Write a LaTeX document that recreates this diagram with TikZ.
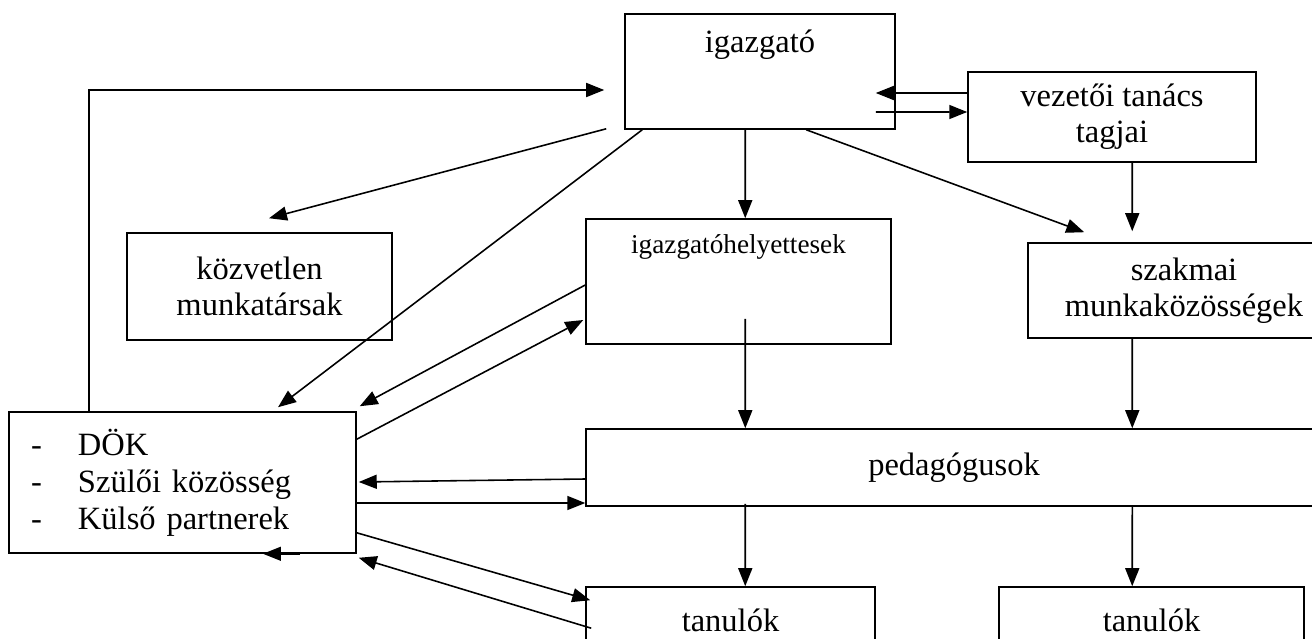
\documentclass[tikz,border=0pt]{standalone}
\usepackage{fontspec}
\setmainfont{Liberation Serif}
\usetikzlibrary{arrows.meta,calc}

\tikzset{
    box/.style={draw, line width=0.9pt, inner sep=0pt, align=center, font=\fontsize{18.5}{20.5}\selectfont},
    lbl/.style={inner sep=0pt, font=\fontsize{18.5}{20.5}\selectfont},
    arr/.style={-{Triangle[length=0.36cm,width=0.28cm]}, line width=0.9pt}
}

\begin{document}
\begin{tikzpicture}[x=0.02cm, y=-0.02cm]
            %\draw[lightgray] (0, 0) grid[step=50] (1312, 639);
            \clip (0, 0) rectangle (1312, 639);
            \node[box, minimum width=5.4cm, minimum height=2.3cm] (igazgato) at (760, 71.5) {};
            \node[lbl] (igazgato-txt) at ($(igazgato.north)+(0, 31)$) {igazgató};
            \node[box, minimum width=5.76cm, minimum height=1.8cm] (vezetoi) at (1112, 117) {vezetői tanács\\tagjai};
            \node[box, minimum width=5.3cm, minimum height=2.14cm] (kozvetlen) at (259.5, 286.5) {közvetlen\\munkatársak};
            \node[box, minimum width=6.1cm, minimum height=2.5cm] (helyettesek) at (738.5, 281.5) {};
            \node[lbl, font=\fontsize{15.5}{18}\selectfont] (helyettesek-txt) at ($(helyettesek.north)+(0, 29)$) {igazgatóhelyettesek};
            \node[box, minimum width=6.24cm, minimum height=1.9cm] (szakmai) at (1184, 290.5) {szakmai\\munkaközösségek};
            \node[box, align=left, text width=6.06cm, inner xsep=0.44cm, minimum height=2.82cm,
                font=\fontsize{18.5}{21}\selectfont] (dok) at (182.5, 482.5)
                {\makebox[0.94cm][l]{-}DÖK\\\makebox[0.94cm][l]{-}Szülői közösség\\\makebox[0.94cm][l]{-}Külső partnerek};
            \node[box, minimum width=14.72cm, minimum height=1.54cm] (pedagogusok) at (954, 467.5) {pedagógusok};
            \node[box, minimum width=5.78cm, minimum height=1.32cm] (tanulok-1) at (730.5, 620) {tanulók};
            \node[box, minimum width=6.1cm, minimum height=1.32cm] (tanulok-2) at (1151.5, 620) {tanulók};

            % igazgato and vezetoi tanacs
            \draw[arr] ($(vezetoi.west)+(0, -24)$) -- ($(igazgato.east)+(-20, 21.5)$);
            \draw[arr] ($(igazgato.east)+(-20, 40.5)$) -- ($(vezetoi.west)+(0, -5)$);
            \draw[arr] ($(dok.north west)+(81, 0)$) |- ($(igazgato.west)+(-20, 18.5)$);
            \draw[arr] ($(igazgato.south west)+(-18, -1)$) -- ($(kozvetlen.north)+(9.5, -14)$);
            \draw[arr] ($(igazgato.south west)+(18, 0)$) -- ($(dok.north)+(95.5, -4)$);
            \draw[arr] ($(igazgato.south west)+(121, 0)$) -- ($(helyettesek.north west)+(160, 0)$);
            \draw[arr] ($(igazgato.south west)+(182, 0)$) -- ($(szakmai.north west)+(57, -10)$);
            \draw[arr] ($(vezetoi.south west)+(165, 0)$) -- ($(szakmai.north west)+(105, -11)$);

            % down to pedagogusok and tanulok
            \draw[arr] ($(helyettesek.south west)+(160, -26)$) -- ($(pedagogusok.north west)+(160, 0)$);
            \draw[arr] ($(szakmai.south west)+(105, 0)$) -- ($(pedagogusok.north west)+(547, 0)$);
            \draw[arr] ($(pedagogusok.south west)+(160, -3)$) -- ($(tanulok-1.north west)+(160, 0)$);
            \draw[arr] ($(pedagogusok.south west)+(547, 0)$) -- ($(tanulok-2.north west)+(134, 0)$);

            % DOK, szuloi kozosseg, kulso partnerek
            \draw[arr] ($(helyettesek.west)+(0, 3.5)$) -- ($(dok.north east)+(3, -5)$);
            \draw[arr] ($(dok.north east)+(0, 28)$) -- ($(helyettesek.west)+(-2, 38.5)$);
            \draw[arr] ($(pedagogusok.west)+(0, 11.5)$) -- ($(dok.east)+(2, -0.5)$);
            \draw[arr] ($(dok.east)+(0, 20.5)$) -- ($(pedagogusok.west)+(0, 35.5)$);
            \draw[arr] ($(dok.south)+(117.5, 0)$) -- ($(dok.south)+(80.5, 0)$);
            \draw[arr] ($(dok.south east)+(0, -21)$) -- ($(tanulok-1.north west)+(5, 14)$);
            \draw[arr] ($(tanulok-1.north west)+(6, 42)$) -- ($(dok.south east)+(2, 4)$);
        \end{tikzpicture}
\end{document}
